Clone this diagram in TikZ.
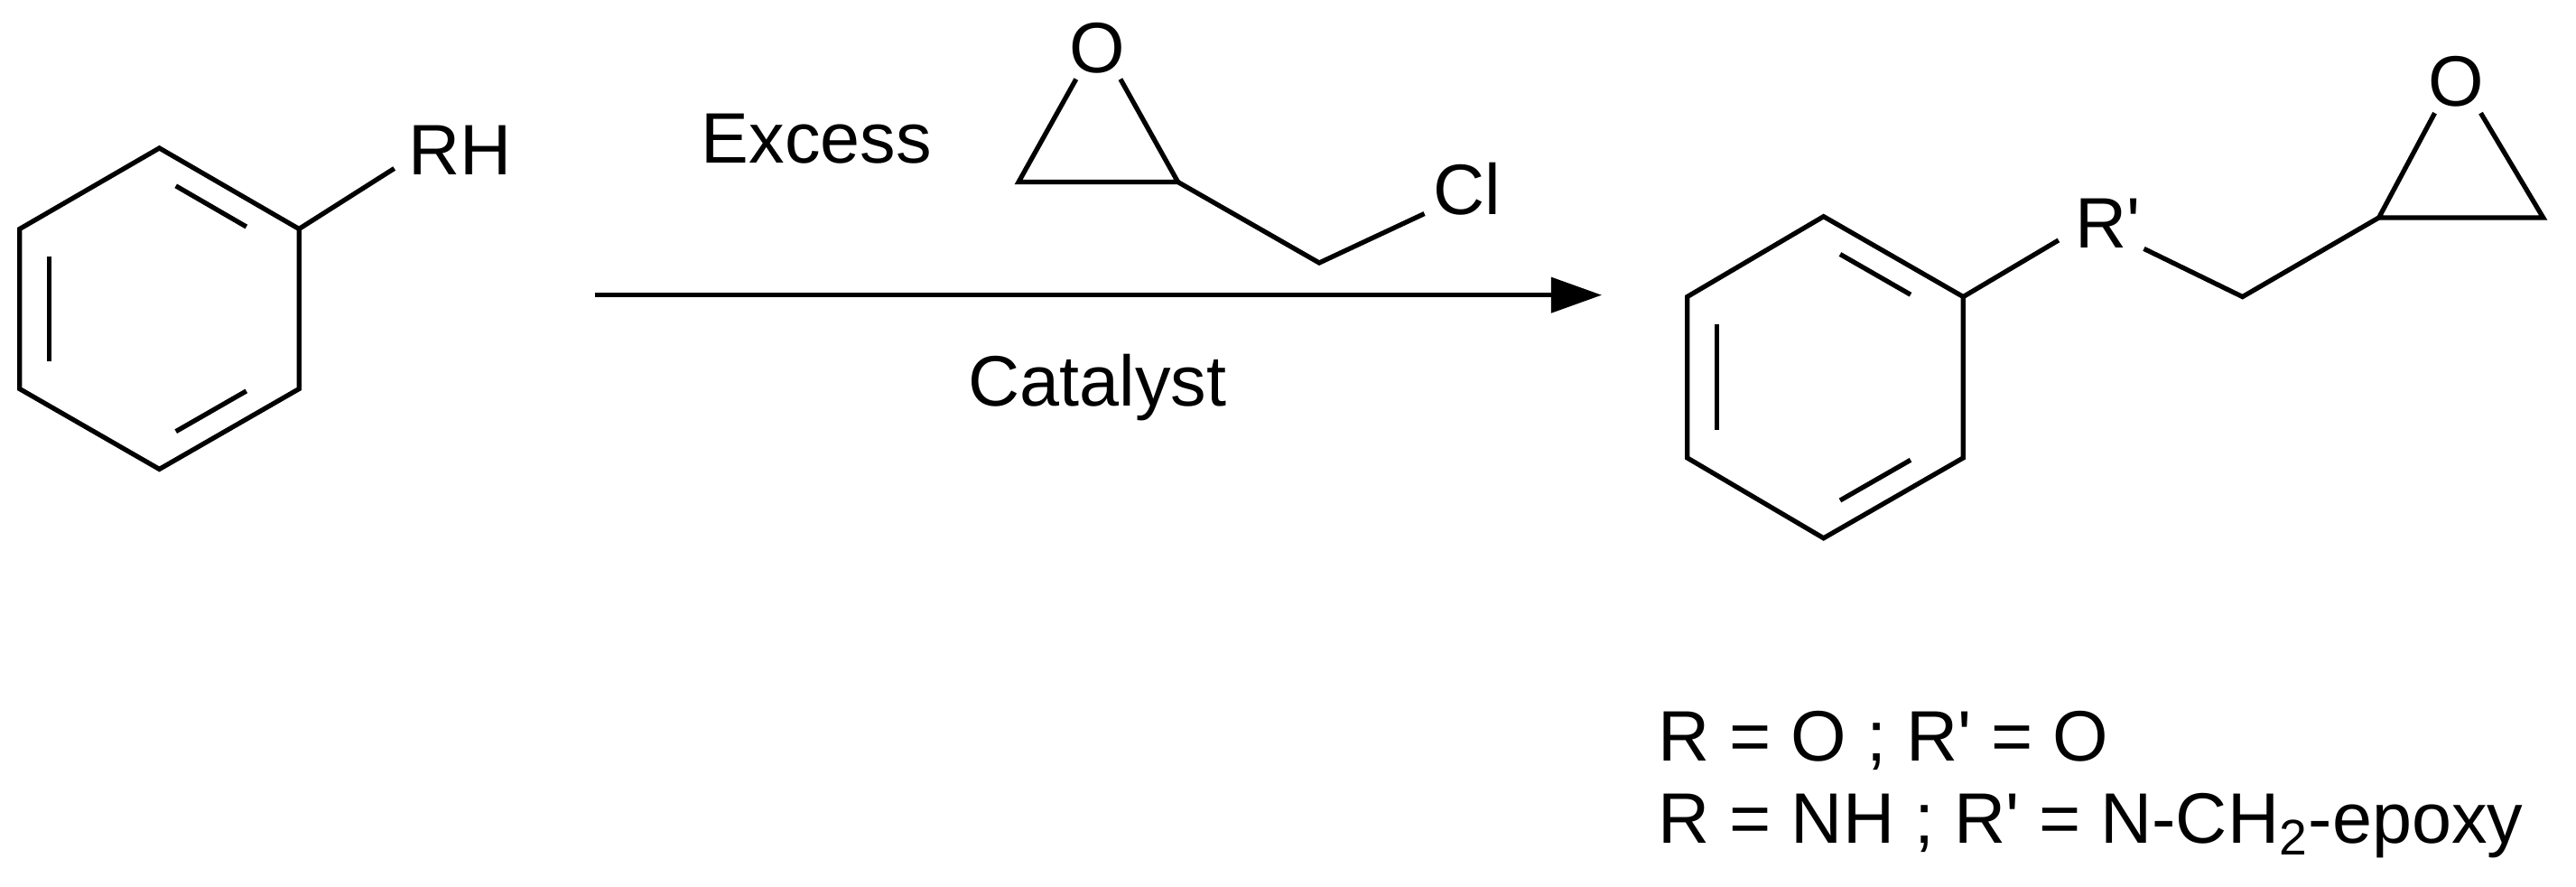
\documentclass[tikz,border=0pt]{standalone}
\usepackage{fontspec}
\setmainfont{Liberation Sans}
\usetikzlibrary{arrows.meta}
\newcommand{\prm}{\textquotesingle}
\begin{document}
\begin{tikzpicture}[x=0.018195cm,y=-0.00625cm,line width=1.5pt]
	\tikzstyle{every node}+=[inner sep=0pt,font=\fontsize{22.5}{26}\selectfont]
	\tikzset{bond/.style={black},inner/.style={black,shorten >=6pt,shorten <=6pt}}
	\useasboundingbox (0,0) rectangle (1568,1568);
	% left ring
	\coordinate (a1) at (97,262);
	\coordinate (a2) at (182,405);
	\coordinate (a3) at (182,688);
	\coordinate (a4) at (97,830);
	\coordinate (a5) at (12,688);
	\coordinate (a6) at (12,405);
	\draw [bond] (a1) -- (a2) -- (a3) -- (a4) -- (a5) -- (a6) -- cycle;
	\draw [inner] (97,312) -- (160,418);
	\draw [inner] (30,420) -- (30,673);
	\draw [inner] (160,675) -- (97,780);
	\node (rh) at (280,265) {RH};
	\draw [bond] (a2) -- (240,298);
	% reagent
	\node (excess) at (497,245) {Excess};
	\node (o1) at (668,85) {O};
	\coordinate (b1) at (620,322);
	\coordinate (b2) at (717,322);
	\coordinate (b3) at (803,465);
	\node (cl) at (893,335) {Cl};
	\draw [bond] (655,140) -- (b1) -- (b2) -- (682,140);
	\draw [bond] (b2) -- (b3) -- (867,378);
	% arrow
	\coordinate (s) at (362,522);
	\coordinate (t) at (975,522);
	\draw [bond,-{Triangle[length=16pt,width=11pt]}] (s) -- (t);
	\node (cat) at (668,685) {Catalyst};
	% product ring
	\coordinate (c1) at (1110,383);
	\coordinate (c2) at (1195,525);
	\coordinate (c3) at (1195,810);
	\coordinate (c4) at (1110,952);
	\coordinate (c5) at (1027,810);
	\coordinate (c6) at (1027,525);
	\draw [bond] (c1) -- (c2) -- (c3) -- (c4) -- (c5) -- (c6) -- cycle;
	\draw [inner] (1110,433) -- (1173,538);
	\draw [inner] (1045,540) -- (1045,795);
	\draw [inner] (1173,797) -- (1110,902);
	\node (rp) at (1283,395) {R\prm};
	\coordinate (d1) at (1365,525);
	\coordinate (d2) at (1448,385);
	\coordinate (d3) at (1548,385);
	\node (o2) at (1495,145) {O};
	\draw [bond] (c2) -- (1253,425);
	\draw [bond] (1305,440) -- (d1) -- (d2);
	\draw [bond] (1482,200) -- (d2) -- (d3) -- (1510,200);
	% legend
	\node [anchor=west] (l1) at (1008,1310) {R = O ; R\prm\ = O};
	\node [anchor=west] (l2) at (1008,1460) {R = NH ; R\prm\ = N-CH\textsubscript{2}-epoxy};
\end{tikzpicture}
\end{document}
